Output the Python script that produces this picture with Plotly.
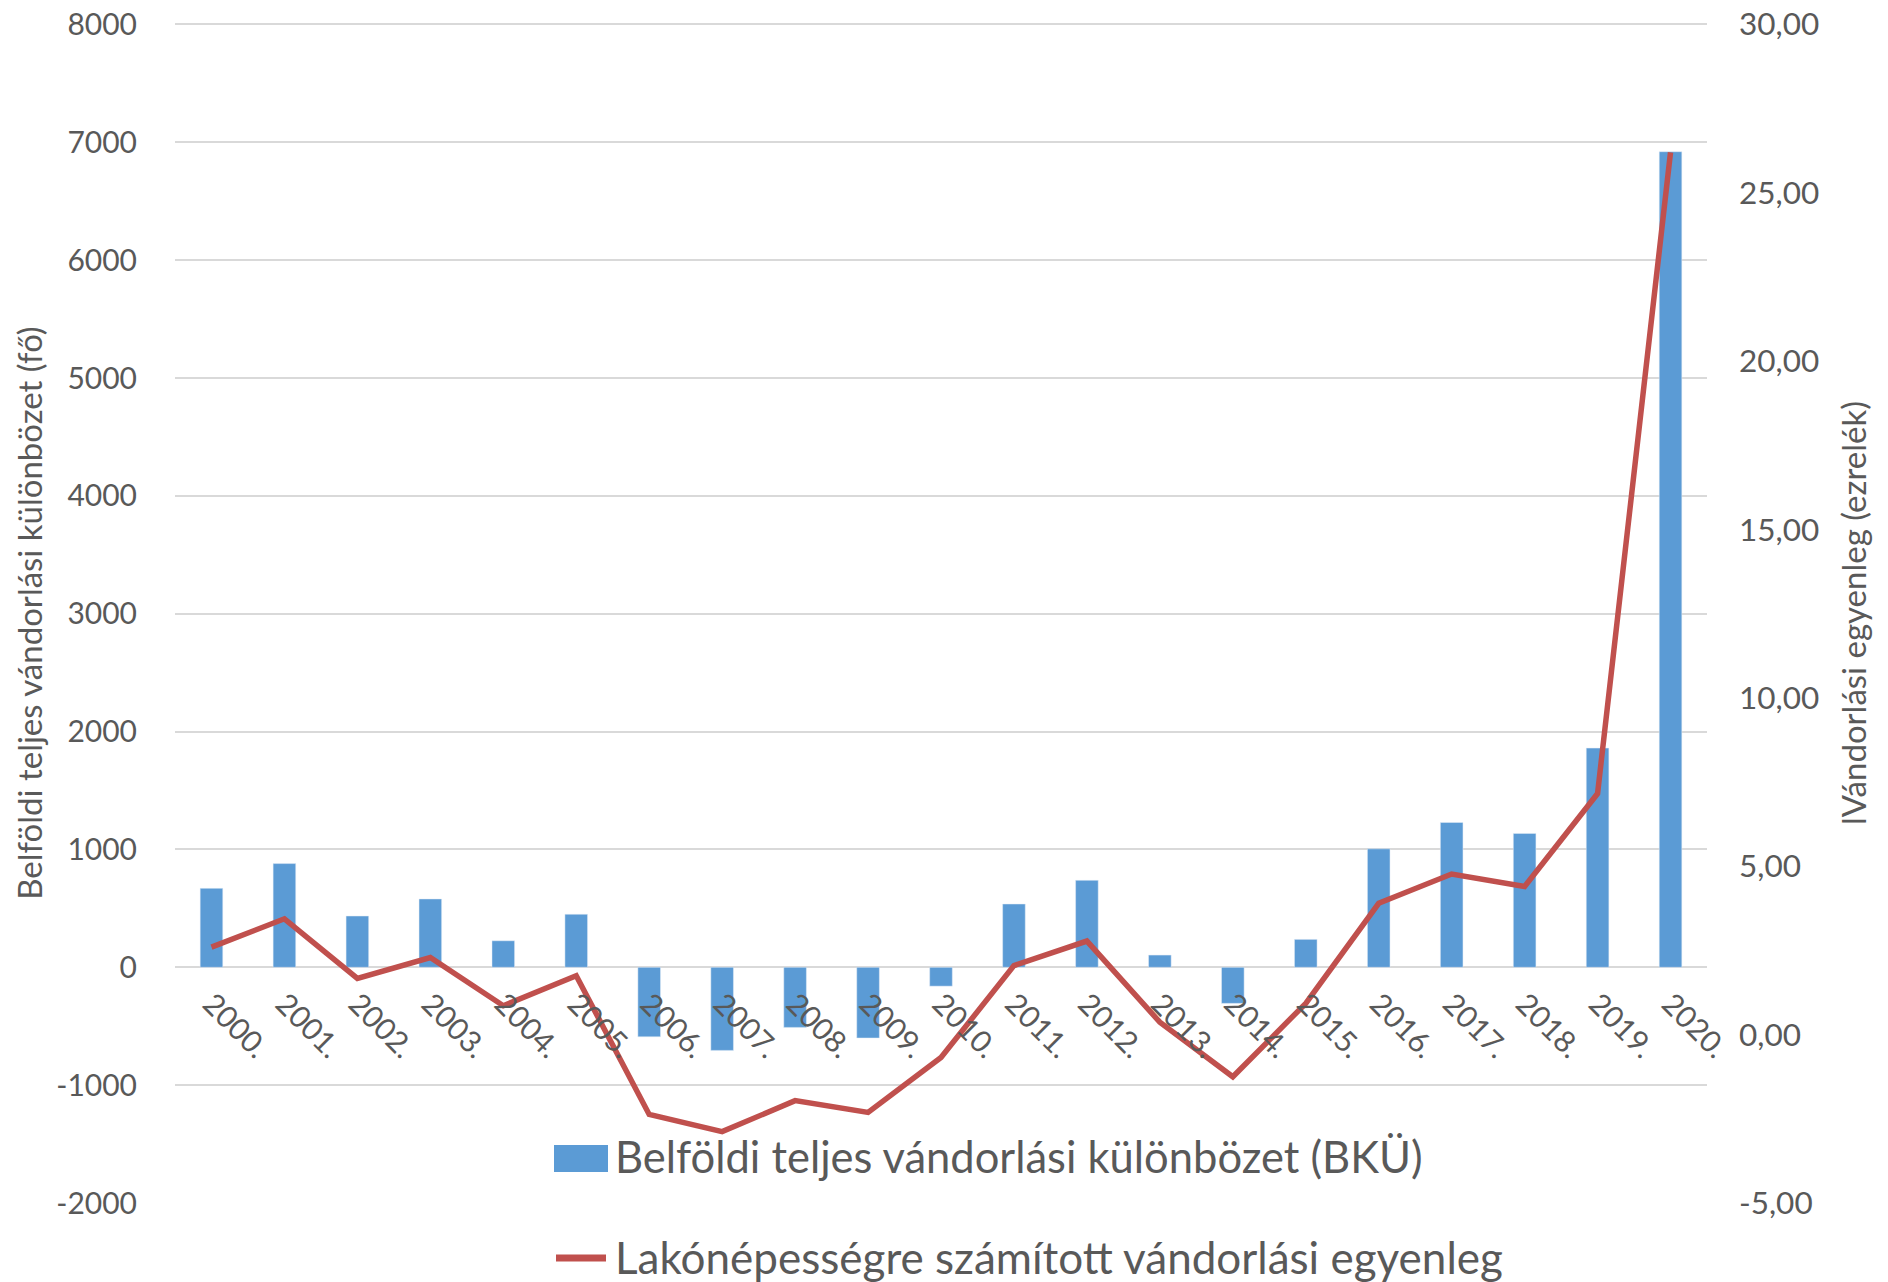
import plotly.graph_objects as go

years = ["2000.", "2001.", "2002.", "2003.", "2004.", "2005.", "2006.", "2007.", "2008.", "2009.",
         "2010.", "2011.", "2012.", "2013.", "2014.", "2015.", "2016.", "2017.", "2018.", "2019.", "2020."]
bku = [670, 880, 435, 580, 225, 450, -590, -705, -510, -600,
       -160, 537, 738, 104, -306, 237, 1005, 1229, 1136, 1860, 6920]
egyenleg = [2.60, 3.44, 1.67, 2.29, 0.86, 1.75, -2.37, -2.88, -1.96, -2.31,
            -0.68, 2.05, 2.78, 0.37, -1.25, 0.93, 3.90, 4.77, 4.40, 7.16, 26.2]

left_ticks = [-2000, -1000, 0, 1000, 2000, 3000, 4000, 5000, 6000, 7000, 8000]
left_text = ["-2000", "-1000", "0", "1000", "2000", "3000", "4000", "5000", "6000", "7000", "8000"]
right_ticks = [-5, 0, 5, 10, 15, 20, 25, 30]
right_text = ["-5,00", "0,00", "5,00", "10,00", "15,00", "20,00", "25,00", "30,00"]

bar_name = "Belföldi teljes vándorlási különbözet (BKÜ)"
line_name = "Lakónépességre számított vándorlási egyenleg"

FONT = "Lato"
TXT = "#595959"
BLUE = "#5B9BD5"
RED = "#C0504D"

W, H = 1888, 1282
# plot area in page pixels (8000 gridline at y=24, -2000 at y=1203)
ymin, ymax_tick, pad = -2000, 8000, 12
ymax = ymax_tick + pad
px_per_unit = (1203 - 24) / (ymax_tick - ymin)
P_LEFT, P_RIGHT = 175, 1707
P_TOP = 24 - pad * px_per_unit
P_BOTTOM = 1203
ML = P_LEFT
MR = W - P_RIGHT
MT = P_TOP
MB = 0
pw = W - ML - MR
ph = H - MT - MB
dom0 = (H - P_BOTTOM) / ph
zero_pos = dom0 + (0 - ymin) / (ymax - ymin) * (1 - dom0)
y2min, y2max_tick = -5, 30
y2max = y2max_tick + pad * (y2max_tick - y2min) / (ymax_tick - ymin)


def px_x(x):
    return (x - ML) / pw


def px_y(y):
    return (H - MB - y) / ph


fig = go.Figure()
fig.add_trace(go.Bar(
    x=years, y=bku, name=bar_name,
    marker=dict(color=BLUE), yaxis="y", showlegend=False,
))
fig.add_trace(go.Scatter(
    x=years, y=egyenleg, name=line_name,
    mode="lines", line=dict(color=RED, width=5.5), yaxis="y2", showlegend=False,
))

shapes = [
    dict(type="rect", xref="paper", yref="paper",
         x0=px_x(554), x1=px_x(608), y0=px_y(1172), y1=px_y(1145),
         fillcolor=BLUE, line=dict(width=0)),
    dict(type="line", xref="paper", yref="paper",
         x0=px_x(556), x1=px_x(606), y0=px_y(1258), y1=px_y(1258),
         line=dict(color=RED, width=7)),
]
annotations = [
    dict(text=bar_name, xref="paper", yref="paper", x=px_x(613), y=px_y(1156),
         xanchor="left", yanchor="middle", showarrow=False,
         font=dict(size=43.5, color=TXT, family=FONT)),
    dict(text=line_name, xref="paper", yref="paper", x=px_x(613), y=px_y(1257),
         xanchor="left", yanchor="middle", showarrow=False,
         font=dict(size=44, color=TXT, family=FONT)),
]

fig.update_layout(
    width=W, height=H,
    margin=dict(l=ML, r=MR, t=MT, b=MB),
    paper_bgcolor="white", plot_bgcolor="white",
    font=dict(family=FONT, color=TXT, size=30),
    bargap=0.69,
    showlegend=False,
    xaxis=dict(
        type="category", anchor="free", position=zero_pos, tickangle=45,
        showgrid=False, showline=False, ticks="", automargin=False,
        ticklabelstandoff=12, ticklabeloverflow="allow",
        tickfont=dict(size=30, color=TXT), range=[-0.5, 20.5],
    ),
    yaxis=dict(
        domain=[dom0, 1],
        range=[ymin, ymax], tickvals=left_ticks, ticktext=left_text,
        showgrid=True, gridcolor="#D9D9D9", gridwidth=2, zeroline=False,
        ticks="", ticklabelstandoff=37, automargin=False, ticklabeloverflow="allow",
        tickfont=dict(size=30, color=TXT),
        title=dict(text="Belföldi teljes vándorlási különbözet (fő)", font=dict(size=33, color=TXT), standoff=3),
    ),
    yaxis2=dict(
        domain=[dom0, 1],
        range=[y2min, y2max], tickvals=right_ticks, ticktext=right_text,
        overlaying="y", side="right", showgrid=False, zeroline=False,
        ticks="", ticklabelstandoff=31, automargin=False, ticklabeloverflow="allow",
        tickfont=dict(size=31.5, color=TXT),
        title=dict(text="lVándorlási egyenleg (ezrelék)", font=dict(size=33, color=TXT), standoff=24),
    ),
    shapes=shapes,
    annotations=annotations,
)

fig.write_html("out.html", config={"displayModeBar": False},
               post_script="document.body.style.margin='0';document.body.style.overflow='hidden';")
